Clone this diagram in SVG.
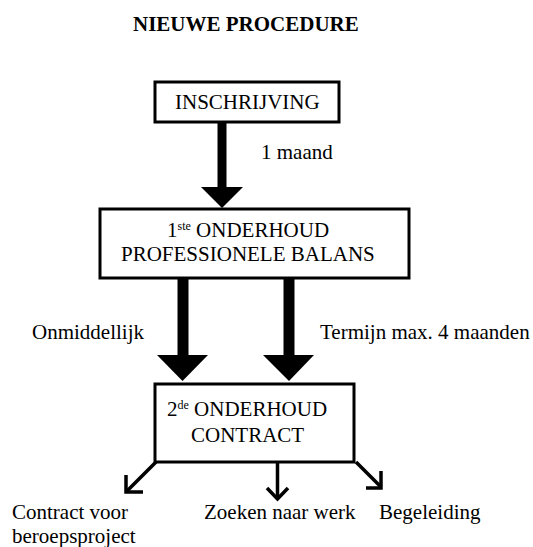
<svg xmlns="http://www.w3.org/2000/svg" width="533" height="547" viewBox="0 0 533 547">
<style>
.box{fill:#fff;stroke:#000;stroke-width:3}
.thin{fill:none;stroke:#000;stroke-width:3.5;stroke-linecap:butt;stroke-linejoin:miter}
</style>
<rect width="533" height="547" fill="#fff"/>
<g font-family="Liberation Serif, Times New Roman, serif" font-size="21" fill="#000">
<text font-weight="bold" x="133" y="31">NIEUWE PROCEDURE</text>
<g id="connectors">
  <g id="arrow-inschrijving-onderhoud1">
    <rect x="217.5" y="122" width="9" height="66"/>
    <polygon points="201,187 243,187 222,208"/>
  </g>
  <g id="arrow-onmiddellijk">
    <rect x="177.5" y="278" width="11" height="78"/>
    <polygon points="157,355 208,355 182.5,381"/>
  </g>
  <g id="arrow-termijn">
    <rect x="283.5" y="278" width="11" height="78"/>
    <polygon points="263,355 314,355 289,381"/>
  </g>
  <g id="arrow-contract-voor">
    <path class="thin" d="M156,462 L126,492"/>
    <path class="thin" d="M126,475 L126,492 L143,492"/>
  </g>
  <g id="arrow-zoeken">
    <path class="thin" d="M277.5,462 L277.5,499"/>
    <path class="thin" d="M267,488 L277.5,499 L288,488"/>
  </g>
  <g id="arrow-begeleiding">
    <path class="thin" d="M356,462 L381,487"/>
    <path class="thin" d="M381,471 L381,488 L366,488"/>
  </g>
  <text x="261" y="159">1 maand</text>
  <text x="32" y="339">Onmiddellijk</text>
  <text x="320" y="339">Termijn max. 4 maanden</text>
</g>
<g id="node-inschrijving">
  <rect class="box" x="155" y="82" width="184" height="40"/>
  <text x="175" y="109">INSCHRIJVING</text>
</g>
<g id="node-onderhoud1">
  <rect class="box" x="100" y="209" width="309" height="69"/>
  <text x="167" y="237">1<tspan font-size="12" dy="-7">ste</tspan><tspan dy="7"> ONDERHOUD</tspan></text>
  <text x="121" y="261">PROFESSIONELE BALANS</text>
</g>
<g id="node-onderhoud2">
  <rect class="box" x="155" y="384" width="199" height="78"/>
  <text x="167" y="416">2<tspan font-size="12" dy="-7">de</tspan><tspan dy="7"> ONDERHOUD</tspan></text>
  <text x="191" y="442">CONTRACT</text>
</g>
<g id="node-contract-voor">
  <text x="12" y="519">Contract voor</text>
  <text x="12" y="543">beroepsproject</text>
</g>
<g id="node-zoeken">
  <text x="204" y="519">Zoeken naar werk</text>
</g>
<g id="node-begeleiding">
  <text x="379" y="519">Begeleiding</text>
</g>
</g>
</svg>
